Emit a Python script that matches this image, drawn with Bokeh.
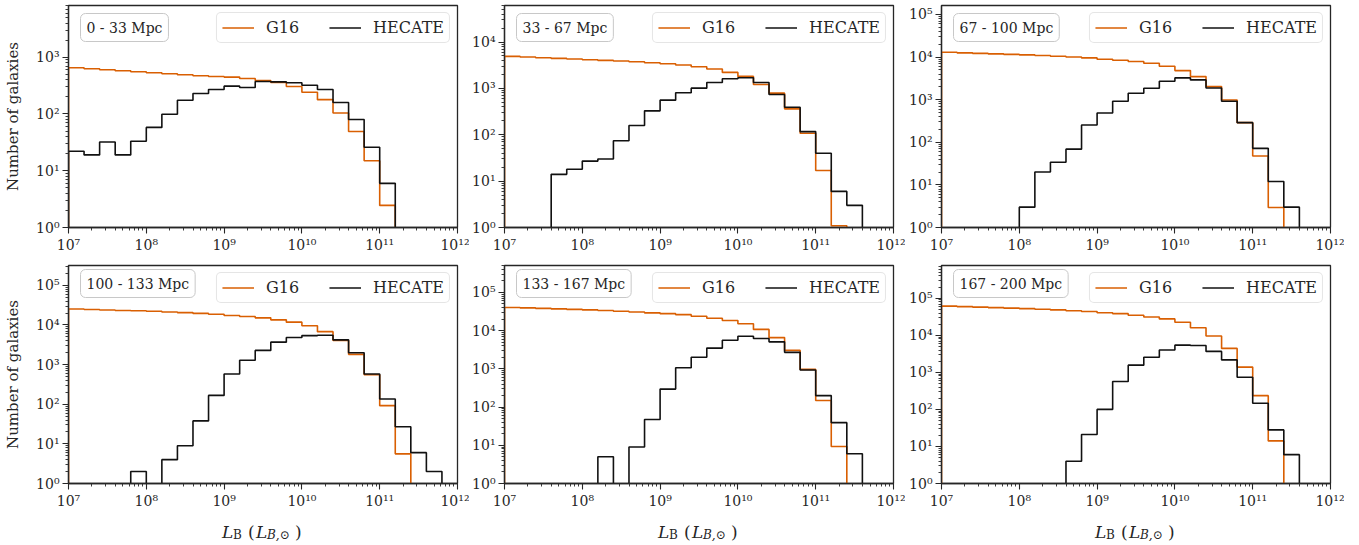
from bokeh.plotting import figure
from bokeh.models import (FixedTicker, CustomJSTickFormatter, Range1d, Legend,
                          LegendItem, Label)
from bokeh.layouts import column, row
from bokeh.embed import file_html
from bokeh.resources import INLINE

# ---------------- data ----------------
bin_edges_dex = [7.0, 7.2, 7.4, 7.6, 7.8, 8.0, 8.2, 8.4, 8.6, 8.8, 9.0, 9.2, 9.4,
                 9.6, 9.8, 10.0, 10.2, 10.4, 10.6, 10.8, 11.0, 11.2, 11.4, 11.6,
                 11.8, 12.0]

distance_bins = ["0 - 33 Mpc", "33 - 67 Mpc", "67 - 100 Mpc",
                 "100 - 133 Mpc", "133 - 167 Mpc", "167 - 200 Mpc"]

g16_p1 = [652, 626, 601, 577, 554, 532, 510, 490, 471, 458, 446, 422, 389, 359,
          305, 242, 179, 104, 49, 15, 2.45, 0, 0, 0, 0]
hec_p1 = [22, 19, 32, 19, 33, 58, 99, 175, 229, 270, 309, 292, 373, 368, 354,
          321, 270, 159, 80, 26, 6, 0, 0, 0, 0]

g16_p2 = [4900, 4740, 4585, 4435, 4290, 4150, 4015, 3885, 3757, 3575, 3400,
          3185, 2930, 2608, 2208, 1812, 1216, 789, 362, 108, 17, 1.09, 0, 0, 0]
hec_p2 = [0, 0, 0, 14, 18, 27, 30, 74, 158, 328, 557, 803, 1012, 1343, 1611,
          1694, 1343, 739, 393, 117, 40, 6, 3, 0, 0]

g16_p3 = [13000, 12560, 12220, 11890, 11570, 11270, 10870, 10480, 10020, 9580,
          8910, 8440, 7850, 7170, 6100, 4820, 3485, 2028, 986, 289, 47.5, 2.95,
          0, 0, 0]
hec_p3 = [0, 0, 0, 0, 0, 3, 20, 34, 69, 255, 488, 916, 1414, 1853, 2711, 3245,
          2911, 1888, 916, 289, 72, 12, 3, 0, 0]

g16_p4 = [25300, 24600, 23900, 23200, 22800, 22150, 21300, 20500, 19550, 18630,
          17300, 16300, 15100, 13470, 11780, 9550, 6770, 4045, 1815, 555, 92,
          5.6, 0, 0, 0]
hec_p4 = [0, 0, 0, 0, 2, 0, 4, 9, 38, 167, 577, 1286, 2280, 3680, 4805, 5390,
          5495, 4204, 1995, 577, 135, 27, 6, 2, 0]

g16_p5 = [40300, 39150, 38000, 36900, 35800, 34770, 33430, 32130, 30580, 29100,
          27700, 26120, 23660, 21000, 18300, 15020, 10740, 6550, 3033, 966, 148,
          9.3, 0, 0, 0]
hec_p5 = [0, 0, 0, 0, 0, 0, 5, 0, 9, 47, 295, 1065, 2003, 3483, 5596, 7093,
          6180, 5070, 2694, 927, 199, 39, 6, 0, 0]

g16_p6 = [61300, 59500, 57700, 55950, 54300, 52650, 50550, 48550, 46100, 43820,
          40830, 38400, 34700, 31330, 27700, 22580, 15990, 9600, 4430, 1385, 235,
          14.1, 0, 0, 0]
hec_p6 = [0, 0, 0, 0, 0, 0, 0, 0, 4, 21, 100, 565, 1567, 2553, 4000, 5430,
          5325, 3683, 2170, 736, 147, 28, 6, 0, 0]

series_names = ["G16", "HECATE"]
g16_all = [g16_p1, g16_p2, g16_p3, g16_p4, g16_p5, g16_p6]
hec_all = [hec_p1, hec_p2, hec_p3, hec_p4, hec_p5, hec_p6]

# ---------------- style ----------------
FONT = "DejaVu Serif"
TXT = "#262626"
ORANGE = "#d95f02"
BLACK = "#111111"
FRAME_W, FRAME_H = 389, 222
COL_BORDERS = [(68, 12), (35, 12), (36, 14)]
ROW_BORDERS = [(5, 30), (8, 24)]
FLOOR = 1e-2  # zero-count bins drop out of the log frame

label_props = set(Label.properties())
legend_props = set(Legend.properties())


def outline(counts):
    xs = [10 ** bin_edges_dex[0]]
    ys = [FLOOR]
    for i, c in enumerate(counts):
        v = c if c > 0 else FLOOR
        xs += [10 ** bin_edges_dex[i], 10 ** bin_edges_dex[i + 1]]
        ys += [v, v]
    xs.append(10 ** bin_edges_dex[-1])
    ys.append(FLOOR)
    return xs, ys


sup_js = """
const sup = {"0":"\u2070","1":"\u00b9","2":"\u00b2","3":"\u00b3","4":"\u2074",
             "5":"\u2075","6":"\u2076","7":"\u2077","8":"\u2078","9":"\u2079","-":"\u207b"};
const e = Math.round(Math.log10(tick));
return "10" + String(e).split("").map(c => sup[c]).join("");
"""


def make_panel(idx):
    col = idx % 3
    rowi = idx // 3
    g16 = g16_all[idx]
    hec = hec_all[idx]
    top = 12.5 * max(g16)

    bl, br = COL_BORDERS[col]
    b_top, b_bot = ROW_BORDERS[rowi]

    p = figure(x_axis_type="log", y_axis_type="log",
               x_range=Range1d(1e7, 1e12), y_range=Range1d(1, top),
               width=bl + FRAME_W + br, height=b_top + FRAME_H + b_bot,
               min_border_left=bl, min_border_right=br,
               min_border_top=b_top, min_border_bottom=b_bot,
               output_backend="svg", toolbar_location=None)
    p.background_fill_color = "white"
    p.border_fill_color = "white"
    p.grid.visible = False
    p.outline_line_color = TXT
    p.outline_line_width = 1.3
    p.outline_line_alpha = 1.0

    x_major = [10.0 ** k for k in range(7, 13)]
    x_minor = [m * 10.0 ** k for k in range(7, 12) for m in range(2, 10)]
    y_major = [10.0 ** k for k in range(0, 7)]
    y_minor = [m * 10.0 ** k for k in range(0, 6) for m in range(2, 10)]
    p.xaxis.ticker = FixedTicker(ticks=x_major, minor_ticks=x_minor)
    p.yaxis.ticker = FixedTicker(ticks=y_major, minor_ticks=y_minor)
    for ax in (p.xaxis[0], p.yaxis[0]):
        ax.formatter = CustomJSTickFormatter(code=sup_js)
        ax.major_label_text_font = FONT
        ax.major_label_text_font_size = "14px"
        ax.major_label_text_color = TXT
        ax.major_label_standoff = 3
        ax.major_tick_in = 0
        ax.major_tick_out = 6
        ax.minor_tick_in = 0
        ax.minor_tick_out = 3
        ax.major_tick_line_color = TXT
        ax.minor_tick_line_color = TXT
        ax.major_tick_line_width = 1.1
        ax.minor_tick_line_width = 0.9
        ax.axis_line_color = TXT
        ax.axis_line_width = 1.3

    if col == 0:
        p.yaxis.axis_label = "Number of galaxies"
        p.yaxis.axis_label_text_font = FONT
        p.yaxis.axis_label_text_font_size = "15px"
        p.yaxis.axis_label_text_font_style = "normal"
        p.yaxis.axis_label_text_color = TXT
        p.yaxis.axis_label_standoff = 11

    xs, ys = outline(g16)
    r_g = p.line(xs, ys, line_color=ORANGE, line_width=1.6)
    xs, ys = outline(hec)
    r_h = p.line(xs, ys, line_color=BLACK, line_width=1.6)

    legend = Legend(items=[LegendItem(label=series_names[0], renderers=[r_g]),
                           LegendItem(label=series_names[1], renderers=[r_h])],
                    location="top_right", orientation="horizontal")
    legend.label_text_font = FONT
    legend.label_text_font_size = "16px"
    legend.label_text_color = TXT
    legend.glyph_width = 32
    legend.glyph_height = 17
    legend.label_height = 17
    legend.label_standoff = 12
    legend.spacing = 30
    legend.padding = 5
    legend.margin = 7
    legend.border_line_color = "#cccccc"
    legend.border_line_width = 1
    legend.background_fill_color = "white"
    legend.background_fill_alpha = 0.85
    if "border_radius" in legend_props:
        legend.border_radius = 5
    p.add_layout(legend)

    kw = dict(x=12, y=FRAME_H - 8, x_units="screen", y_units="screen",
              text=distance_bins[idx], text_font=FONT, text_font_size="14px",
              text_color=TXT, text_align="left", text_baseline="top",
              background_fill_color="white", background_fill_alpha=0.85,
              border_line_color="#c8c8c8", border_line_width=1)
    if "padding" in label_props:
        kw["padding"] = 6
    if "border_radius" in label_props:
        kw["border_radius"] = 5
    if "anchor" in label_props:
        kw["anchor"] = "top_left"
    p.add_layout(Label(**kw))
    return p


panels = [make_panel(i) for i in range(6)]

# strip holding the x-axis titles  L_B (L_{B,sun})  under each bottom panel
total_w = sum(bl + FRAME_W + br for bl, br in COL_BORDERS)
STRIP_H = 30
strip = figure(title=None, width=total_w, height=STRIP_H,
               x_range=Range1d(0, total_w), y_range=Range1d(0, STRIP_H),
               min_border=0, x_axis_location=None, y_axis_location=None,
               output_backend="svg", toolbar_location=None)
strip.outline_line_color = None
strip.grid.visible = False
strip.background_fill_color = "white"
strip.border_fill_color = "white"

offset = 0
for c, (bl, br) in enumerate(COL_BORDERS):
    cx = offset + bl + FRAME_W / 2
    x0 = cx - 41
    pieces = [
        ("L", 0, 10, "17px", "italic"),
        ("B", 11, 7, "12px", "normal"),
        ("(", 26, 10, "17px", "normal"),
        ("L", 34, 10, "17px", "italic"),
        ("B,\u2299", 45, 7, "12px", "italic"),
        (")", 73, 10, "17px", "normal"),
    ]
    for t, dx, yy, fs, st in pieces:
        strip.add_layout(Label(x=x0 + dx, y=yy, text=t, text_font=FONT,
                               text_font_size=fs, text_font_style=st,
                               text_color=TXT, text_align="left",
                               text_baseline="alphabetic"))
    offset += bl + FRAME_W + br
strip.scatter([0], [0], size=0, alpha=0)

layout = column(row(*panels[:3]), row(*panels[3:]), strip)

open("out.html", "w").write(file_html(layout, INLINE))
